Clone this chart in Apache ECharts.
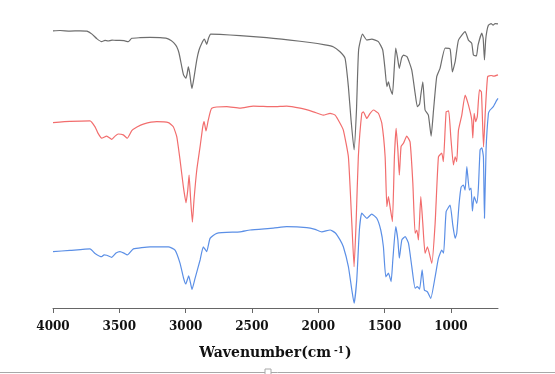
<!DOCTYPE html>
<html>
<head>
<meta charset="utf-8">
<script src="https://cdn.jsdelivr.net/npm/echarts@6/dist/echarts.min.js"></script>
<style>html,body{margin:0;padding:0;background:#fff;}#c{width:555px;height:374px;}</style>
</head>
<body>
<div id="c"></div>
<script>
// Wavenumber ticks (cm-1)
var tickValues = [4000, 3500, 3000, 2500, 2000, 1500, 1000];

// Spectrum 1 (gray, top): [wavenumber, transmittance a.u.]
var graySpectrum = [
[4000,92.4],[3947,92.5],[3872,92.3],[3796,92.4],[3744,92.3],[3706,91.3],[3668,89.7],[3633,88.8],
[3608,89.2],[3585,89.0],[3555,89.3],[3525,89.2],[3495,89.2],[3465,89.1],[3432,88.8],[3406,89.9],
[3344,90.1],[3268,90.2],[3193,90.1],[3143,89.9],[3110,89.2],[3087,88.3],[3067,87.1],[3050,85.0],
[3029,80.4],[3016,77.7],[2999,76.6],[2989,78.0],[2980,80.4],[2971,78.7],[2959,74.7],[2952,73.2],
[2940,76.0],[2916,82.7],[2899,86.0],[2879,88.2],[2859,89.6],[2841,87.9],[2827,90.0],[2811,91.3],
[2741,91.2],[2590,90.8],[2439,90.3],[2339,89.9],[2213,89.3],[2062,88.5],[1949,87.7],[1888,87.1],
[1836,85.4],[1798,83.2],[1773,73.8],[1753,62.7],[1730,52.7],[1712,66.0],[1696,86.0],[1667,91.3],
[1634,89.3],[1597,89.6],[1547,88.8],[1514,86.0],[1496,79.3],[1483,73.8],[1471,75.4],[1459,73.3],
[1441,71.2],[1428,79.3],[1416,86.6],[1402,83.3],[1389,79.9],[1372,83.3],[1358,84.3],[1330,83.7],
[1295,79.3],[1270,71.6],[1253,67.1],[1236,68.0],[1227,71.0],[1212,75.4],[1195,66.0],[1170,64.3],
[1149,57.3],[1131,66.0],[1107,77.1],[1082,79.9],[1044,86.6],[1006,86.3],[989,78.7],[968,82.1],
[943,89.3],[893,92.1],[868,89.3],[843,88.2],[830,84.3],[808,84.0],[795,87.7],[767,91.6],
[757,90.0],[747,82.7],[738,89.3],[729,92.3],[717,94.3],[697,94.8],[682,94.3],[667,94.8],[645,94.7]
];

// Spectrum 2 (red, middle)
var redSpectrum = [
[4000,61.8],[3872,62.2],[3721,62.4],[3683,60.4],[3661,58.3],[3633,56.6],[3595,57.3],[3557,56.2],
[3532,57.3],[3508,58.0],[3470,57.7],[3440,56.6],[3406,59.1],[3367,60.3],[3319,61.3],[3218,62.1],
[3130,61.8],[3093,60.4],[3067,57.1],[3042,49.3],[3017,40.4],[2997,35.1],[2984,39.3],[2974,44.3],
[2962,36.0],[2949,28.6],[2937,36.0],[2916,46.0],[2891,53.8],[2871,60.4],[2861,62.1],[2846,59.0],
[2829,62.7],[2803,66.6],[2690,67.1],[2590,66.6],[2489,67.3],[2339,67.1],[2238,67.3],[2137,66.6],
[2037,65.4],[1962,64.3],[1911,64.9],[1873,64.3],[1836,61.6],[1811,59.3],[1773,50.4],[1747,28.2],
[1730,13.8],[1715,28.2],[1698,50.4],[1672,64.9],[1660,65.4],[1634,63.2],[1609,64.9],[1584,66.0],
[1547,64.9],[1521,61.6],[1496,50.4],[1483,33.8],[1471,37.1],[1459,33.8],[1441,28.8],[1426,50.4],
[1413,59.9],[1400,52.7],[1389,44.3],[1376,53.8],[1358,54.9],[1333,57.3],[1308,55.4],[1287,41.6],
[1270,24.9],[1257,26.0],[1245,22.7],[1227,37.1],[1212,28.2],[1195,18.2],[1177,20.4],[1144,14.9],
[1119,28.2],[1094,50.4],[1069,51.6],[1057,48.8],[1036,65.4],[1017,65.7],[1001,57.1],[981,47.7],
[968,50.4],[956,48.8],[943,59.3],[918,64.3],[893,71.0],[868,67.7],[843,62.7],[835,56.7],
[825,64.9],[813,62.1],[801,63.8],[785,72.7],[770,72.0],[754,53.7],[740,66.0],[723,77.1],
[697,77.5],[674,77.3],[645,77.7]
];

// Spectrum 3 (blue, bottom)
var blueSpectrum = [
[4000,18.8],[3872,19.2],[3721,19.7],[3683,18.2],[3633,17.1],[3615,17.7],[3595,17.6],[3557,16.9],
[3525,18.3],[3495,18.8],[3465,18.3],[3440,17.7],[3394,19.7],[3268,20.4],[3130,20.4],[3080,19.3],
[3042,14.9],[3016,10.0],[2999,8.0],[2977,10.7],[2963,8.3],[2952,6.2],[2929,9.9],[2891,16.0],
[2867,20.4],[2841,18.8],[2816,23.2],[2765,24.9],[2590,25.4],[2514,26.0],[2339,26.6],[2238,27.1],
[2087,26.8],[2024,26.2],[1974,25.4],[1911,26.0],[1873,25.1],[1836,22.7],[1811,20.4],[1773,13.8],
[1747,6.0],[1730,1.6],[1710,9.3],[1690,26.0],[1672,31.6],[1634,29.9],[1597,31.3],[1559,29.9],
[1529,26.0],[1509,20.4],[1491,10.4],[1471,11.6],[1451,8.8],[1438,16.0],[1416,27.1],[1400,22.7],
[1389,16.6],[1370,22.7],[1345,23.8],[1320,21.6],[1295,13.8],[1270,6.6],[1253,7.1],[1236,6.3],
[1217,12.7],[1200,6.0],[1177,5.4],[1152,3.2],[1119,10.4],[1094,16.6],[1069,19.3],[1055,18.3],
[1036,32.1],[1006,34.3],[986,27.7],[968,23.2],[956,24.9],[938,34.9],[923,40.3],[906,41.0],
[893,39.3],[880,47.1],[861,39.3],[848,40.0],[838,32.3],[825,37.1],[805,34.9],[793,39.9],
[780,52.7],[767,53.4],[755,50.4],[747,29.9],[735,52.7],[717,64.9],[705,66.0],[680,67.1],
[667,68.2],[654,69.3],[645,69.9]
];

var chart = echarts.init(document.getElementById('c'), null, {renderer: 'canvas'});
function lineSeries(data, color) {
  return {
    type: 'line', data: data, showSymbol: false, symbol: 'none', smooth: 0.15,
    lineStyle: {color: color, width: 1.2}, animation: false, silent: true
  };
}
chart.setOption({
  backgroundColor: '#ffffff',
  animation: false,
  grid: {left: 53, right: 57, top: 8, bottom: 66},
  xAxis: {
    type: 'value', inverse: true, min: 645, max: 4000,
    name: '{b|Wavenumber(cm}{s|-1}{b|)}',
    nameLocation: 'middle', nameGap: 38,
    nameTextStyle: {
      rich: {
        b: {fontFamily: 'DejaVu Serif', fontWeight: 'bold', fontSize: 14, color: '#111'},
        s: {fontFamily: 'DejaVu Serif', fontWeight: 'bold', fontSize: 9, color: '#111', verticalAlign: 'top', padding: [0, 1, 0, 3]}
      }
    },
    axisLine: {show: true, lineStyle: {color: '#666', width: 1}},
    axisTick: {show: true, customValues: tickValues, length: 5, inside: false, lineStyle: {color: '#666'}},
    axisLabel: {
      customValues: tickValues, fontFamily: 'DejaVu Serif', fontWeight: 'bold', fontSize: 12, color: '#111', margin: 13,
      formatter: function (v) { return String(v); }
    },
    splitLine: {show: false}
  },
  yAxis: {type: 'value', min: 0, max: 100, show: false, splitLine: {show: false}},
  series: [
    lineSeries(graySpectrum, '#6e6e6e'),
    lineSeries(redSpectrum, '#f26d6d'),
    lineSeries(blueSpectrum, '#5b8fe6')
  ],
  graphic: [
    {type: 'line', shape: {x1: 0, y1: 372.5, x2: 555, y2: 372.5}, style: {stroke: '#a8a8a8', lineWidth: 1}, silent: true},
    {type: 'rect', shape: {x: 265, y: 369, width: 6, height: 6}, style: {fill: '#fff', stroke: '#a8a8a8', lineWidth: 1}, silent: true}
  ]
});
</script>
</body>
</html>
